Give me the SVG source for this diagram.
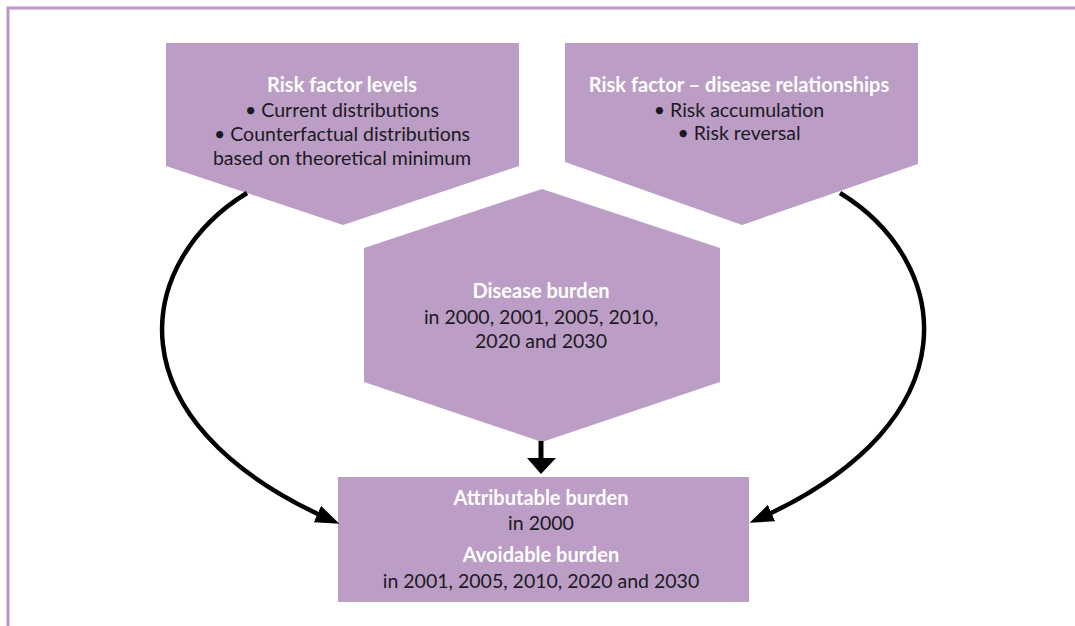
<svg xmlns="http://www.w3.org/2000/svg" width="1075" height="626" viewBox="0 0 1075 626">
<style>
.shape{fill:#bb9dc6;}
.t{font-family:Lato,"Open Sans","Liberation Sans",sans-serif;font-size:19.5px;text-anchor:middle;}
.h{fill:#ffffff;font-weight:bold;font-size:20px;}
.b{fill:#1c1a1e;}
.conn{fill:none;stroke:#000;stroke-width:4.5;}
</style>
<defs>
<marker id="ah" markerUnits="userSpaceOnUse" markerWidth="26" markerHeight="20" refX="17" refY="9" orient="auto">
<path d="M0,0 L24,9 L0,18 Z" fill="#000"/>
</marker>
</defs>
<rect width="1075" height="626" fill="#fff"/>
<path d="M8,626 L8,8 L1075,8" fill="none" stroke="#bf95ca" stroke-width="3"/>
<g id="risk-levels">
<polygon class="shape" points="166,43 519,43 519,166 343,225 166,166"/>
<text class="t h" x="342" y="92">Risk factor levels</text>
<text class="t b" x="342" y="117">• Current distributions</text>
<text class="t b" x="342" y="141">• Counterfactual distributions</text>
<text class="t b" x="342" y="165">based on theoretical minimum</text>
</g>
<g id="risk-disease">
<polygon class="shape" points="565,43 918,43 918,164 742,225 565,162"/>
<text class="t h" x="739" y="92">Risk factor – disease relationships</text>
<text class="t b" x="739" y="117">• Risk accumulation</text>
<text class="t b" x="739" y="140">• Risk reversal</text>
</g>
<g id="disease-burden">
<polygon class="shape" points="542,189 720,248 720,382 542,442 364,382 364,248"/>
<text class="t h" x="541" y="298">Disease burden</text>
<text class="t b" x="541" y="324">in 2000, 2001, 2005, 2010,</text>
<text class="t b" x="541" y="348">2020 and 2030</text>
</g>
<g id="attributable">
<rect class="shape" x="338" y="477" width="411" height="125"/>
<text class="t h" x="541" y="505">Attributable burden</text>
<text class="t b" x="541" y="530">in 2000</text>
<text class="t h" x="541" y="562">Avoidable burden</text>
<text class="t b" x="541" y="588">in 2001, 2005, 2010, 2020 and 2030</text>
</g>
<g id="connectors">
<path class="conn" d="M247,193 C137,260 104,420 333,521" marker-end="url(#ah)"/>
<path class="conn" d="M840,193 C950,260 980,420 756,520" marker-end="url(#ah)"/>
<line x1="541" y1="441" x2="541" y2="460" stroke="#000" stroke-width="5"/>
<polygon points="527,458 556,458 541,474" fill="#000"/>
</g>
</svg>
